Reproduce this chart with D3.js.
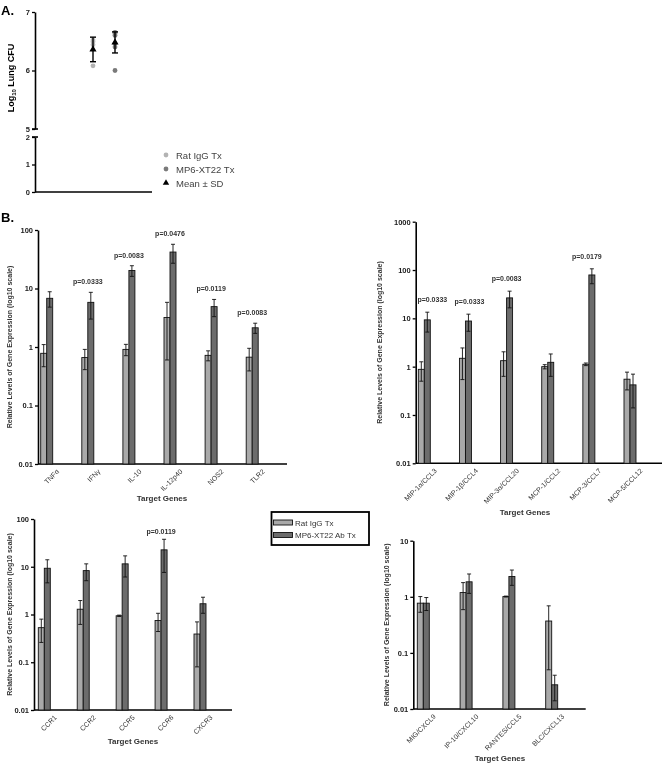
<!DOCTYPE html>
<html>
<head>
<meta charset="utf-8">
<script src="https://cdn.jsdelivr.net/npm/d3@7"></script>
<style>
  body { margin: 0; background: #fff; }
  svg { will-change: transform; }
  text { font-family: "Liberation Sans", Arial, sans-serif; }
</style>
</head>
<body>
<div id="chart"></div>
<script>
// ---- panel A: log10 lung CFU ----
let groupsA = ["Rat IgG Tx", "MP6-XT22 Tx"];
let pointsRat = [6.08, 6.44, 6.49, 6.52];
let pointsMp6 = [6.0, 6.4, 6.46, 6.6, 6.63, 6.65];
let meanA = [6.36, 6.48];
let sdA = [0.21, 0.18];

// ---- panel B: relative gene expression (mean, sd) ----
let genes1 = ["TNFα", "IFNγ", "IL-10", "IL-12p40", "NOS2", "TLR2"];
let rat1 = [0.78, 0.66, 0.91, 3.2, 0.72, 0.67];
let ratSd1 = [0.32, 0.25, 0.2, 2.6, 0.14, 0.28];
let mp1 = [6.8, 5.8, 20.3, 42, 4.9, 2.13];
let mpSd1 = [2.0, 2.8, 4.2, 15, 1.6, 0.42];
let pval1 = ["", "p=0.0333", "p=0.0083", "p=0.0476", "p=0.0119", "p=0.0083"];

let genes2 = ["MIP-1α/CCL3", "MIP-1β/CCL4", "MIP-3α/CCL20", "MCP-1/CCL2", "MCP-3/CCL7", "MCP-5/CCL12"];
let rat2 = [0.88, 1.49, 1.33, 1.0, 1.12, 0.55];
let ratSd2 = [0.38, 0.95, 0.7, 0.1, 0.07, 0.22];
let mp2 = [9.3, 8.8, 26.5, 1.23, 79, 0.42];
let mpSd2 = [4.1, 3.4, 10, 0.6, 27, 0.28];
let pval2 = ["p=0.0333", "p=0.0333", "p=0.0083", "", "p=0.0179", ""];

let genes3 = ["CCR1", "CCR2", "CCR5", "CCR6", "CXCR3"];
let rat3 = [0.53, 1.29, 0.94, 0.75, 0.39];
let ratSd3 = [0.27, 0.67, 0.03, 0.31, 0.31];
let mp3 = [9.3, 8.3, 11.5, 22.6, 1.68];
let mpSd3 = [4.7, 3.2, 5.4, 15, 0.62];
let pval3 = ["", "", "", "p=0.0119", ""];

let genes4 = ["MIG/CXCL9", "IP-10/CXCL10", "RANTES/CCL5", "BLC/CXCL13"];
let rat4 = [0.77, 1.19, 1.01, 0.37];
let ratSd4 = [0.24, 0.6, 0.02, 0.32];
let mp4 = [0.77, 1.85, 2.3, 0.027];
let mpSd4 = [0.2, 0.7, 0.7, 0.013];
let pval4 = ["", "", "", ""];

let lightFill = "#a9a9a9";
let darkFill = "#6c6c6c";

let svg = d3.select("#chart")
  .append("svg")
  .attr("width", 664)
  .attr("height", 763);

// panel letters
svg.append("text").attr("x", 1).attr("y", 15).text("A.")
  .attr("font-size", 13).attr("font-weight", "bold");
svg.append("text").attr("x", 1).attr("y", 222).text("B.")
  .attr("font-size", 13).attr("font-weight", "bold");

// ================= panel A =================
let axA = 35;
let yTop = d3.scaleLinear().domain([5, 7]).range([129, 12]);
let yLow = d3.scaleLinear().domain([0, 2]).range([192, 137]);
let xA = d3.scalePoint().domain(groupsA).range([93, 115]);

function styleAxis(sel) {
  sel.select(".domain").attr("stroke-width", 1.6);
  sel.selectAll(".tick line").attr("stroke-width", 1.3);
  sel.selectAll("text")
    .attr("font-size", 7.5)
    .attr("font-weight", "bold")
    .attr("fill", "#222")
    .style("font-family", "Liberation Sans, Arial, sans-serif");
}

svg.append("g")
  .attr("transform", "translate(" + axA + ",0)")
  .call(d3.axisLeft(yTop).tickValues([5, 6, 7]).tickFormat(d3.format("d"))
    .tickSize(3).tickSizeOuter(0).tickPadding(2))
  .call(styleAxis);
svg.append("g")
  .attr("transform", "translate(" + axA + ",0)")
  .call(d3.axisLeft(yLow).tickValues([0, 1, 2]).tickFormat(d3.format("d"))
    .tickSize(3).tickSizeOuter(0).tickPadding(2))
  .call(styleAxis);
// axis break marks
[129, 137].forEach(function (yy) {
  svg.append("line").attr("x1", axA - 3).attr("x2", axA + 3)
    .attr("y1", yy).attr("y2", yy).attr("stroke", "#000").attr("stroke-width", 1.6);
});
svg.append("line").attr("x1", axA).attr("x2", 152)
  .attr("y1", 192).attr("y2", 192).attr("stroke", "#000").attr("stroke-width", 1.6);

let yLabA = svg.append("text")
  .attr("transform", "translate(14,78) rotate(-90)")
  .attr("text-anchor", "middle")
  .attr("font-size", 9)
  .attr("font-weight", "bold");
yLabA.append("tspan").text("Log");
yLabA.append("tspan").text("10").attr("font-size", 6).attr("dy", 2);
yLabA.append("tspan").text(" Lung CFU").attr("dy", -2);

let ptColors = ["#b3b3b3", "#7a7a7a"];
[pointsRat, pointsMp6].forEach(function (pts, i) {
  svg.selectAll(".ptA" + i)
    .data(pts)
    .enter()
    .append("circle")
    .attr("cx", xA(groupsA[i]))
    .attr("cy", function (d) { return yTop(d); })
    .attr("r", 2.4)
    .attr("fill", ptColors[i]);
});
groupsA.forEach(function (gname, i) {
  let cx = xA(gname);
  let hi = yTop(meanA[i] + sdA[i]);
  let lo = yTop(meanA[i] - sdA[i]);
  svg.append("line").attr("x1", cx).attr("x2", cx).attr("y1", hi).attr("y2", lo)
    .attr("stroke", "#000").attr("stroke-width", 1.4);
  [hi, lo].forEach(function (yy) {
    svg.append("line").attr("x1", cx - 3).attr("x2", cx + 3).attr("y1", yy).attr("y2", yy)
      .attr("stroke", "#000").attr("stroke-width", 1.4);
  });
  svg.append("path")
    .attr("d", d3.symbol().type(d3.symbolTriangle).size(22)())
    .attr("transform", "translate(" + cx + "," + yTop(meanA[i]) + ")")
    .attr("fill", "#000");
});

// legend A
let legA = [
  { label: "Rat IgG Tx", kind: "dot", color: ptColors[0] },
  { label: "MP6-XT22 Tx", kind: "dot", color: ptColors[1] },
  { label: "Mean ± SD", kind: "tri", color: "#000" }
];
legA.forEach(function (d, i) {
  let yy = 155 + i * 14;
  if (d.kind == "dot") {
    svg.append("circle").attr("cx", 166).attr("cy", yy).attr("r", 2.4).attr("fill", d.color);
  } else {
    svg.append("path").attr("d", d3.symbol().type(d3.symbolTriangle).size(18)())
      .attr("transform", "translate(166," + yy + ")").attr("fill", d.color);
  }
  svg.append("text").attr("x", 176).attr("y", yy + 3.5).text(d.label)
    .attr("font-size", 9.5).attr("fill", "#444");
});

// ================= panel B =================
function drawBars(cfg) {
  let y = d3.scaleLog().domain([0.01, cfg.top]).range([cfg.yBase, cfg.yTopPx]);
  let x = d3.scalePoint().domain(cfg.genes).range([cfg.x0, cfg.x1]);
  let bw = 6;
  let g = svg.append("g");

  let ticks = [0.01, 0.1, 1, 10, 100, 1000].filter(function (t) { return t <= cfg.top; });
  g.append("g")
    .attr("transform", "translate(" + cfg.axX + ",0)")
    .call(d3.axisLeft(y).tickValues(ticks).tickFormat(function (d) { return String(d); })
      .tickSize(3).tickSizeOuter(0).tickPadding(2))
    .call(styleAxis);
  g.append("line").attr("x1", cfg.axX).attr("x2", cfg.axEnd)
    .attr("y1", cfg.yBase).attr("y2", cfg.yBase)
    .attr("stroke", "#000").attr("stroke-width", 1.6);

  let series = [
    { vals: cfg.rat, sd: cfg.ratSd, off: -bw, fill: lightFill },
    { vals: cfg.mp, sd: cfg.mpSd, off: 0, fill: darkFill }
  ];
  series.forEach(function (s) {
    let grp = g.selectAll(null)
      .data(cfg.genes)
      .enter()
      .append("g");
    grp.append("rect")
      .attr("x", function (d) { return x(d) + s.off; })
      .attr("y", function (d, i) { return y(s.vals[i]); })
      .attr("width", bw)
      .attr("height", function (d, i) { return cfg.yBase - y(s.vals[i]); })
      .attr("fill", s.fill)
      .attr("stroke", "#111")
      .attr("stroke-width", 0.9);
    // error bars, mean +/- sd
    grp.each(function (d, i) {
      let cx = x(d) + s.off + bw / 2;
      let hi = y(s.vals[i] + s.sd[i]);
      let lo = y(Math.max(s.vals[i] - s.sd[i], 0.0101));
      let eb = d3.select(this);
      eb.append("line").attr("x1", cx).attr("x2", cx).attr("y1", hi).attr("y2", lo)
        .attr("stroke", "#111").attr("stroke-width", 0.9);
      [hi, lo].forEach(function (yy) {
        eb.append("line").attr("x1", cx - 2).attr("x2", cx + 2).attr("y1", yy).attr("y2", yy)
          .attr("stroke", "#111").attr("stroke-width", 0.9);
      });
    });
  });

  // p values over the MP6 bar (nudged right near the axis)
  g.selectAll(null)
    .data(cfg.genes)
    .enter()
    .append("text")
    .attr("x", function (d, i) { return x(d) + (cfg.pShift ? cfg.pShift[i] : 0); })
    .attr("y", function (d, i) { return y(cfg.mp[i] + cfg.mpSd[i]) - cfg.pOff; })
    .attr("text-anchor", "middle")
    .attr("font-size", 7)
    .attr("font-weight", "bold")
    .attr("fill", "#333")
    .text(function (d, i) { return cfg.p[i]; });

  // rotated gene names
  g.selectAll(null)
    .data(cfg.genes)
    .enter()
    .append("text")
    .attr("transform", function (d) {
      return "translate(" + (x(d) + 13) + "," + (cfg.yBase + 8) + ") rotate(-45)";
    })
    .attr("text-anchor", "end")
    .attr("font-size", 7)
    .attr("fill", "#333")
    .text(function (d) { return d; });

  g.append("text")
    .attr("x", cfg.tgX).attr("y", cfg.tgY)
    .attr("text-anchor", "middle")
    .attr("font-size", 8)
    .attr("font-weight", "bold")
    .attr("fill", "#333")
    .text("Target Genes");

  g.append("text")
    .attr("transform", "translate(" + cfg.ylX + "," + ((cfg.yBase + cfg.yTopPx) / 2) + ") rotate(-90)")
    .attr("text-anchor", "middle")
    .attr("font-size", 7)
    .attr("font-weight", "bold")
    .attr("fill", "#333")
    .text("Relative Levels of Gene Expression (log10 scale)");
}

drawBars({ genes: genes1, rat: rat1, ratSd: ratSd1, mp: mp1, mpSd: mpSd1, p: pval1,
  top: 100, yBase: 464, yTopPx: 230, axX: 38, axEnd: 287, x0: 46.7, x1: 252.2,
  pOff: 8, tgX: 162, tgY: 501, ylX: 12 });
drawBars({ genes: genes2, rat: rat2, ratSd: ratSd2, mp: mp2, mpSd: mpSd2, p: pval2,
  top: 1000, yBase: 463.3, yTopPx: 221.7, axX: 415.7, axEnd: 662, x0: 424.3, x1: 630,
  pOff: 10, pShift: [8, 4, 0, 0, -2, 0], tgX: 525, tgY: 515, ylX: 382 });
drawBars({ genes: genes3, rat: rat3, ratSd: ratSd3, mp: mp3, mpSd: mpSd3, p: pval3,
  top: 100, yBase: 710, yTopPx: 519, axX: 34, axEnd: 232, x0: 44.3, x1: 200,
  pOff: 5, tgX: 133, tgY: 744, ylX: 12 });
drawBars({ genes: genes4, rat: rat4, ratSd: ratSd4, mp: mp4, mpSd: mpSd4, p: pval4,
  top: 10, yBase: 709, yTopPx: 540.7, axX: 413.3, axEnd: 585.7, x0: 423.3, x1: 551.7,
  pOff: 8, tgX: 500, tgY: 761, ylX: 389 });

// legend B
let legB = svg.append("g");
legB.append("rect").attr("x", 271.5).attr("y", 512).attr("width", 97.5).attr("height", 33)
  .attr("fill", "#fff").attr("stroke", "#000").attr("stroke-width", 1.8);
[["Rat IgG Tx", lightFill], ["MP6-XT22 Ab Tx", darkFill]].forEach(function (d, i) {
  let yy = 520 + i * 12.5;
  legB.append("rect").attr("x", 273.5).attr("y", yy).attr("width", 19).attr("height", 5)
    .attr("fill", d[1]).attr("stroke", "#111").attr("stroke-width", 0.9);
  legB.append("text").attr("x", 295).attr("y", yy + 5.5).text(d[0])
    .attr("font-size", 8).attr("fill", "#333");
});
</script>
</body>
</html>
